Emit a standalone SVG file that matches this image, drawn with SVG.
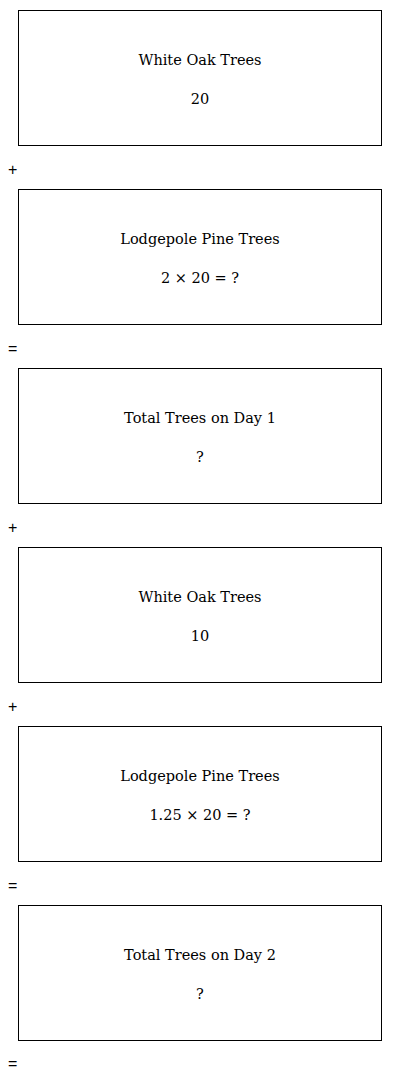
<svg xmlns="http://www.w3.org/2000/svg" width="400" height="1082" viewBox="0 0 400 1082">
<style>
.box{fill:#fff;stroke:#000;stroke-width:1}
.t{font-family:"DejaVu Serif","Liberation Serif",serif;font-size:14.5px;fill:#000;text-anchor:middle}
.op{font-family:"Liberation Sans",Arial,sans-serif;font-size:16px;fill:#000}
</style>
<rect width="400" height="1082" fill="#fff"/>
<g id="n1"><rect class="box" x="18.5" y="10.5" width="363" height="135"/><text class="t" x="200" y="65">White Oak Trees</text><text class="t" x="200" y="104">20</text></g>
<g id="n2"><rect class="box" x="18.5" y="189.5" width="363" height="135"/><text class="t" x="200" y="244">Lodgepole Pine Trees</text><text class="t" x="200" y="283">2 × 20 = ?</text></g>
<g id="n3"><rect class="box" x="18.5" y="368.5" width="363" height="135"/><text class="t" x="200" y="423">Total Trees on Day 1</text><text class="t" x="200" y="462">?</text></g>
<g id="n4"><rect class="box" x="18.5" y="547.5" width="363" height="135"/><text class="t" x="200" y="602">White Oak Trees</text><text class="t" x="200" y="641">10</text></g>
<g id="n5"><rect class="box" x="18.5" y="726.5" width="363" height="135"/><text class="t" x="200" y="781">Lodgepole Pine Trees</text><text class="t" x="200" y="820">1.25 × 20 = ?</text></g>
<g id="n6"><rect class="box" x="18.5" y="905.5" width="363" height="135"/><text class="t" x="200" y="960">Total Trees on Day 2</text><text class="t" x="200" y="999">?</text></g>
<g id="connectors">
<text class="op" x="8" y="175">+</text>
<text class="op" x="8" y="354">=</text>
<text class="op" x="8" y="533">+</text>
<text class="op" x="8" y="712">+</text>
<text class="op" x="8" y="891">=</text>
<text class="op" x="8" y="1069">=</text>
</g>
</svg>
